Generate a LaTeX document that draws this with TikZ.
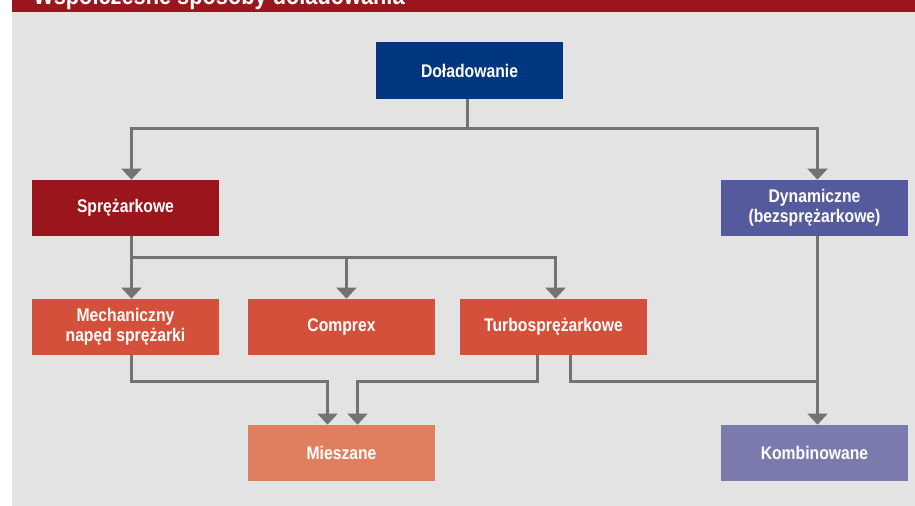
\documentclass[tikz,border=0pt]{standalone}
\usepackage{fontspec}
\setmainfont{Liberation Sans}[FakeStretch=0.86]
\usetikzlibrary{arrows.meta}

\definecolor{bgGray}{HTML}{E2E3E2}
\definecolor{barRed}{HTML}{9B151D}
\definecolor{navyBox}{HTML}{00377F}
\definecolor{darkRed}{HTML}{9B151D}
\definecolor{dynPurple}{HTML}{555A9E}
\definecolor{orangeBox}{HTML}{D5503A}
\definecolor{mixOrange}{HTML}{E07F60}
\definecolor{combLilac}{HTML}{7B7AAD}
\definecolor{lineGray}{HTML}{737373}

\tikzset{
  box/.style={rectangle, minimum width=4.675cm, minimum height=1.4cm,
    text=white, align=center, inner sep=0pt,
    font=\fontsize{13}{14.2}\selectfont\bfseries},
  link/.style={draw=lineGray, line width=0.075cm, line join=miter},
  arr/.style={link, -{Triangle[width=0.5cm, length=0.28cm]}}
}

\begin{document}
\begin{tikzpicture}[x=0.025cm, y=-0.025cm]
        \useasboundingbox (0,0) rectangle (915,506);
        % background and title bar
        \fill[bgGray] (12,12) rectangle (915,506);
        \fill[barRed] (12,0) rectangle (915,12);
        \begin{scope}
            \clip (12,0) rectangle (915,12);
            \node[anchor=base west, inner sep=0pt, text=white,
                  font=\fontsize{18}{20}\selectfont\bfseries] (title) at (33,4.5)
                  {Współczesne sposoby doładowania};
        \end{scope}
        % boxes
        \node[box, fill=navyBox] (dol) at (469.5,70.5) {Doładowanie};
        \node[box, fill=darkRed] (sprez) at (125.5,208) {Sprężarkowe};
        \node[box, fill=dynPurple] (dyn) at (814.5,208) {Dynamiczne\\(bezsprężarkowe)};
        \node[box, fill=orangeBox] (mech) at (125.5,327) {Mechaniczny\\napęd sprężarki};
        \node[box, fill=orangeBox] (comp) at (341.5,327) {Comprex};
        \node[box, fill=orangeBox] (turbo) at (553.5,327) {Turbosprężarkowe};
        \node[box, fill=mixOrange] (mies) at (341.5,453) {Mieszane};
        \node[box, fill=combLilac] (komb) at (814.5,453) {Kombinowane};
        % first level
        \draw[link] ([shift={(-2,0)}]dol.south) -- ++(0,30) coordinate (j1);
        \draw[arr] (j1) -| ([shift={(6,0)}]sprez.north);
        \draw[arr] (j1) -| ([shift={(3,0)}]dyn.north);
        % second level
        \draw[link] ([shift={(6,0)}]sprez.south) -- ++(0,21) coordinate (j2);
        \draw[arr] (j2) -- ([shift={(6,0)}]mech.north);
        \draw[arr] (j2) -| ([shift={(5,0)}]comp.north);
        \draw[arr] (j2) -| ([shift={(2,0)}]turbo.north);
        % third level
        \draw[arr] ([shift={(6,0)}]mech.south) -- ++(0,26) -| ([shift={(-14,0)}]mies.north);
        \draw[arr] ([shift={(-16,0)}]turbo.south) -- ++(0,26) -| ([shift={(16,0)}]mies.north);
        \draw[link] ([shift={(17,0)}]turbo.south) -- ++(0,26) -| ([shift={(3,0)}]dyn.south);
        \draw[arr] ([shift={(3,0)}]dyn.south) -- ([shift={(3,0)}]komb.north);
    \end{tikzpicture}
\end{document}
